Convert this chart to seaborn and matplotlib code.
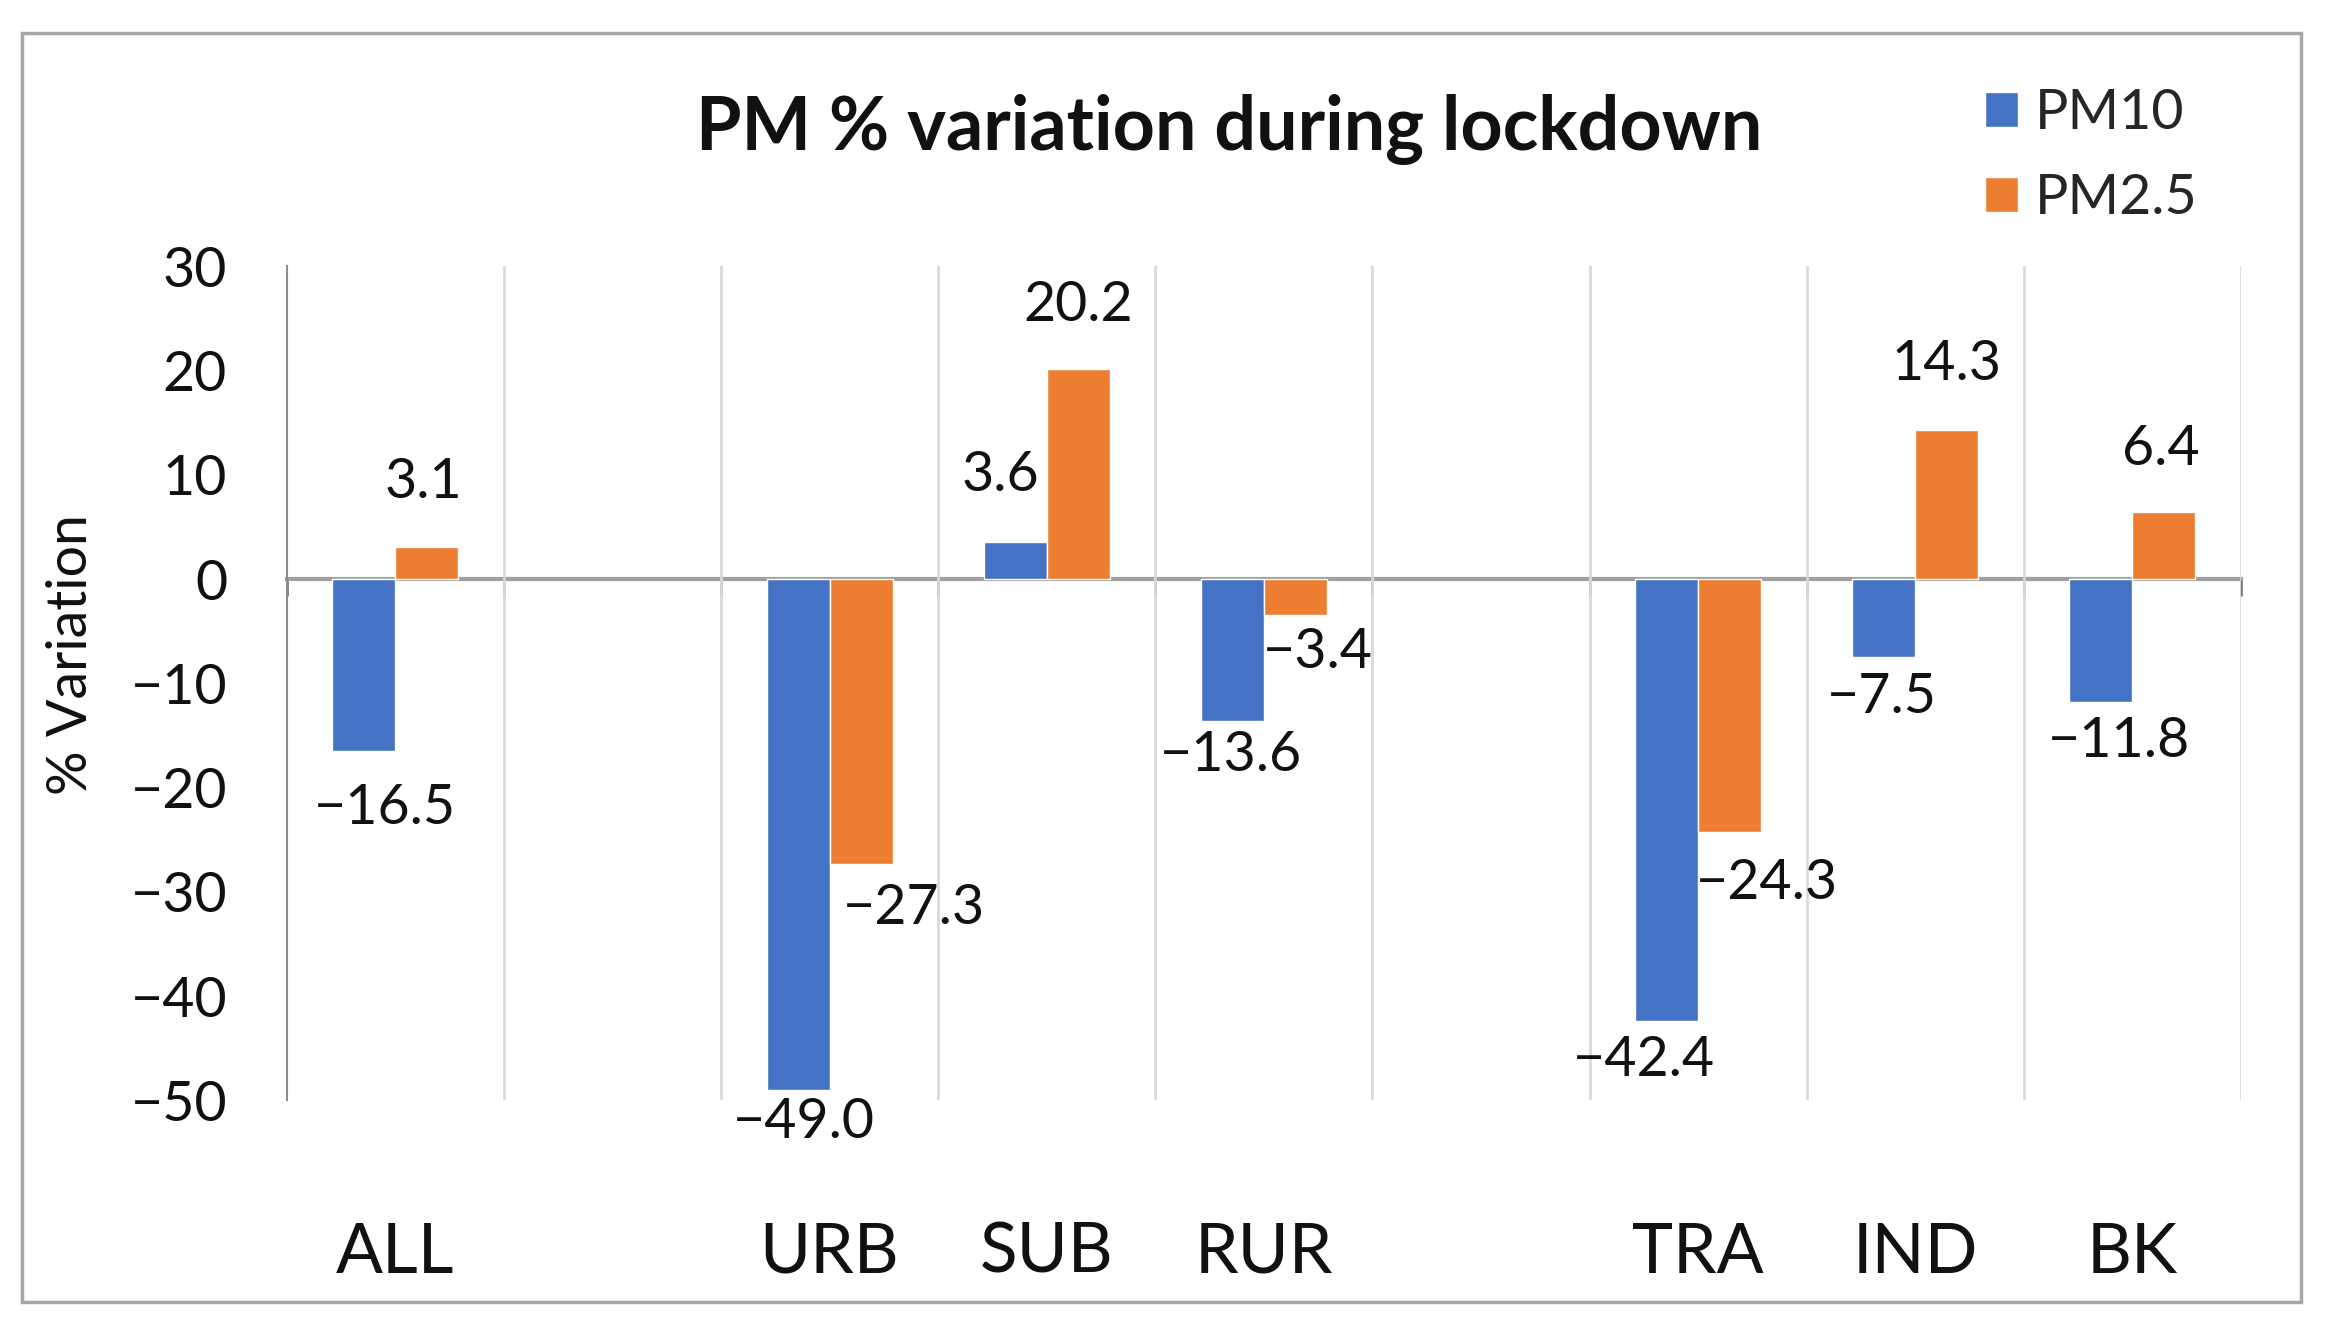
import numpy as np
import pandas as pd
import matplotlib.pyplot as plt
import matplotlib.patches as mpatches
import seaborn as sns

# site types (the two gap slots stay empty, like in the original sheet)
slot_order = ['ALL', 'gap1', 'URB', 'SUB', 'RUR', 'gap2', 'TRA', 'IND', 'BK']
slot_labels = ['ALL', '', 'URB', 'SUB', 'RUR', '', 'TRA', 'IND', 'BK']
sites = ['ALL', 'URB', 'SUB', 'RUR', 'TRA', 'IND', 'BK']
pm10 = [-16.5, -49.0, 3.6, -13.6, -42.4, -7.5, -11.8]
pm25 = [3.1, -27.3, 20.2, -3.4, -24.3, 14.3, 6.4]
series = ['PM10', 'PM2.5']
yticks = [-50, -40, -30, -20, -10, 0, 10, 20, 30]

# data label nudges (px at reference scale, +y = down), hand placed as in the source
label_nudge = {
    'PM10': {'ALL': (14, 38), 'URB': (4, 22), 'SUB': (-10, -44), 'RUR': (-1, 23),
             'TRA': (-15, 26), 'IND': (-1, 27), 'BK': (12, 26)},
    'PM2.5': {'ALL': (-2, -43), 'URB': (35, 30), 'SUB': (0, -42), 'RUR': (15, 25),
              'TRA': (25, 34), 'IND': (0, -44), 'BK': (-2, -42)},
}
SCALE = 2347 / 1568

df = pd.DataFrame({
    'site': sites * 2,
    'value': pm10 + pm25,
    'pollutant': ['PM10'] * len(sites) + ['PM2.5'] * len(sites),
})

sns.set_style('white')
plt.rcParams['font.family'] = ['Lato', 'DejaVu Sans']

blue = '#4472C4'
orange = '#ED7D31'
axis_grey = '#8c8c8c'

fig = plt.figure(figsize=(23.47, 13.35), dpi=100)
ax = fig.add_axes([0.1222, 0.1758, 0.8326, 0.6246])

sns.barplot(data=df, x='site', y='value', hue='pollutant', order=slot_order,
            hue_order=series, palette=[blue, orange], width=0.58, saturation=1,
            errorbar=None, ax=ax)

ax.set_ylim(-50, 30)
ax.set_xlim(-0.5, len(slot_order) - 0.5)
ax.set_yticks(yticks)
ax.set_xlabel('')

# data labels
for cont, name in zip(ax.containers, series):
    for bar in cont:
        h = bar.get_height()
        if np.isnan(h):
            continue
        xc = bar.get_x() + bar.get_width() / 2
        site = slot_order[int(round(xc))]
        dx, dy = label_nudge[name][site]
        ax.annotate(f'{h:.1f}'.replace('-', '\u2212'), xy=(xc, h),
                    xytext=(dx * SCALE, -dy * SCALE), textcoords='offset pixels',
                    ha='center', va='center', fontsize=40, color='#111111')

# category labels far below the plot, vertical grid between slots
bounds = np.arange(len(slot_order) + 1) - 0.5
ax.set_xticks(range(len(slot_order)), labels=slot_labels)
ax.set_xticks(bounds[1:], minor=True)
ax.tick_params(axis='x', which='major', length=0, pad=124, labelsize=50, colors='#111111')
ax.tick_params(axis='x', which='minor', length=0)
for t in ax.get_xticklabels():
    t.set_verticalalignment('baseline')
ax.grid(axis='x', which='minor', color='#d9d9d9', lw=2)
ax.grid(axis='y', visible=False)

ax.tick_params(axis='y', direction='out', length=13, width=1.5, color=axis_grey,
               pad=30, labelsize=40, labelcolor='#111111')
for s in ['top', 'right', 'bottom']:
    ax.spines[s].set_visible(False)
ax.spines['left'].set_color(axis_grey)
ax.spines['left'].set_linewidth(1.5)

# zero line with its small ticks
ymin, ymax = ax.get_ylim()
zax = ax.secondary_xaxis((0 - ymin) / (ymax - ymin))
zax.set_alignment('bottom')
zax.set_xticks(bounds)
zax.tick_params(axis='x', direction='out', length=12, width=2, color='#7f7f7f',
                labelbottom=False, labeltop=False)
zax.spines['bottom'].set_color('#a0a0a0')
zax.spines['bottom'].set_linewidth(3)

ax.set_ylabel('% Variation', fontsize=40, color='#111111')
ax.yaxis.set_label_coords(-0.097, 0.534)

fig.text(0.5237, 0.8876, 'PM % variation during lockdown', ha='center', va='baseline',
         fontsize=53, fontweight='bold', color='#111111')

handles, labels = ax.get_legend_handles_labels()
if ax.legend_ is not None:
    ax.legend_.remove()
fig.legend(handles, labels, loc='center left', bbox_to_anchor=(0.8457, 0.883),
           frameon=False, fontsize=40, handlelength=0.6, handleheight=0.6,
           handletextpad=0.3, labelspacing=0.62, borderpad=0, borderaxespad=0)

fig.add_artist(mpatches.Rectangle((0.0094, 0.0247), 0.971, 0.9506,
                                  transform=fig.transFigure, fill=False,
                                  ec='#a6a6a6', lw=2.5))

fig.savefig('out.png', dpi=100)
